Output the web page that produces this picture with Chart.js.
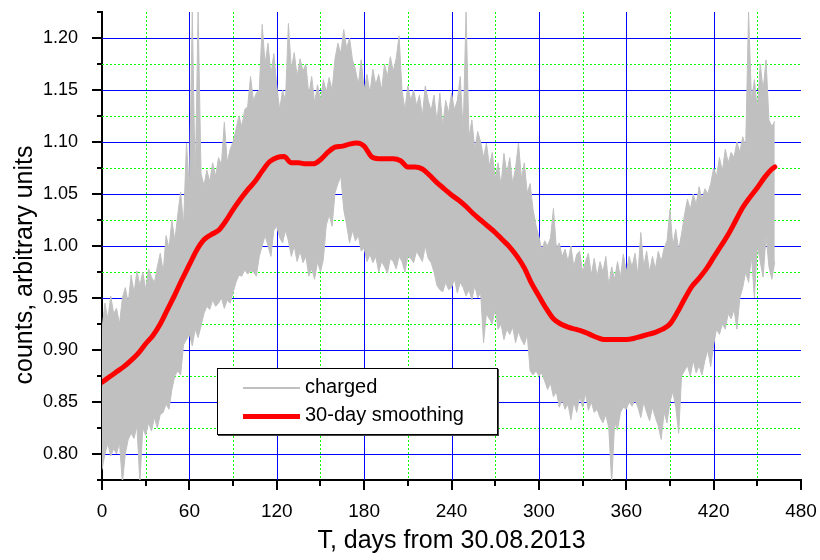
<!DOCTYPE html>
<html>
<head>
<meta charset="utf-8">
<script src="https://cdn.jsdelivr.net/npm/chart.js@4.4.1/dist/chart.umd.min.js"></script>
<style>
  html, body { margin: 0; padding: 0; background: #fff; }
  #wrap { position: relative; width: 820px; height: 560px; }
  #legend {
    position: absolute; left: 217px; top: 368px; width: 279px; height: 65px;
    border: 1px solid #000; background: #fff; box-shadow: 1px 1px 0 #444;
    font-family: "Liberation Sans", Arial, sans-serif; font-size: 20px; line-height: 24px; color: #000;
  }
  #legend .sample { position: absolute; left: 25px; width: 57px; }
  #legend .lbl { position: absolute; left: 87px; white-space: nowrap; }
</style>
</head>
<body>
<div id="wrap">
  <canvas id="c" width="820" height="560"></canvas>
  <div id="legend">
    <div class="sample" style="top:18px;height:2px;background:#c0c0c0;"></div>
    <span class="lbl" style="top:5px;">charged</span>
    <div class="sample" style="top:45px;height:5px;background:#ff0000;"></div>
    <span class="lbl" style="top:33px;">30-day smoothing</span>
  </div>
</div>
<script>
// ---- axis ticks ----
const xTicks = [0, 60, 120, 180, 240, 300, 360, 420, 480];
const xMinor = [30, 90, 150, 210, 270, 330, 390, 450];
const yTicks = [0.80, 0.85, 0.90, 0.95, 1.00, 1.05, 1.10, 1.15, 1.20];
const yMinor = [0.775, 0.825, 0.875, 0.925, 0.975, 1.025, 1.075, 1.125, 1.175, 1.225];

// ---- 30-day smoothing (red) ----
const smoothDays = [0,5,10,15,20,25,30,35,40,45,50,55,60,65,70,75,80,85,90,95,
  100,105,110,115,120,125,130,135,140,145,150,155,160,165,170,175,180,185,190,195,
  200,205,210,215,220,225,230,235,240,245,250,255,260,265,270,275,280,285,290,295,
  300,305,310,315,320,325,330,335,340,345,350,355,360,365,370,375,380,385,390,395,
  400,405,410,415,420,425,430,435,440,445,450,455,460,462];
const smoothValues = [0.869,0.874,0.879,0.884,0.890,0.897,0.906,0.914,0.925,0.939,
  0.953,0.968,0.982,0.996,1.006,1.011,1.015,1.024,1.035,1.045,
  1.054,1.062,1.072,1.081,1.085,1.086,1.080,1.080,1.079,1.079,
  1.083,1.090,1.095,1.096,1.098,1.099,1.096,1.086,1.084,1.084,
  1.084,1.082,1.076,1.076,1.074,1.068,1.061,1.055,1.049,1.044,
  1.038,1.031,1.025,1.019,1.013,1.006,0.999,0.990,0.979,0.964,
  0.952,0.940,0.930,0.925,0.922,0.920,0.918,0.915,0.912,0.910,
  0.910,0.910,0.910,0.911,0.913,0.915,0.917,0.920,0.925,0.936,
  0.949,0.961,0.969,0.978,0.989,1.000,1.011,1.024,1.037,1.047,
  1.056,1.066,1.074,1.076];

// ---- charged (grey band), upper / lower envelope every 2 days ----
const chargedHigh = [
  0.920,0.945,0.930,0.952,0.935,0.940,0.925,0.950,0.960,0.945,
  0.972,0.955,0.976,0.962,0.975,0.958,0.978,0.970,0.965,0.980,
  0.993,0.975,1.010,0.998,1.025,1.005,1.030,1.052,1.020,1.099,
  1.055,1.225,1.060,1.225,1.070,1.058,1.073,1.062,1.080,1.067,
  1.085,1.078,1.119,1.080,1.093,1.100,1.112,1.125,1.115,1.131,
  1.134,1.163,1.140,1.147,1.150,1.213,1.175,1.195,1.165,1.185,
  1.154,1.131,1.150,1.140,1.214,1.170,1.186,1.163,1.180,1.168,
  1.175,1.145,1.163,1.138,1.155,1.140,1.160,1.148,1.162,1.150,
  1.180,1.195,1.185,1.208,1.190,1.200,1.179,1.170,1.155,1.179,
  1.150,1.165,1.147,1.170,1.155,1.165,1.150,1.175,1.163,1.182,
  1.168,1.180,1.202,1.150,1.131,1.154,1.140,1.150,1.135,1.145,
  1.125,1.154,1.140,1.130,1.145,1.120,1.147,1.115,1.140,1.128,
  1.147,1.131,1.140,1.163,1.110,1.225,1.105,1.121,1.093,1.110,
  1.100,1.085,1.099,1.077,1.090,1.065,1.080,1.058,1.089,1.070,
  1.085,1.060,1.075,1.099,1.065,1.080,1.051,1.060,1.035,1.020,
  1.009,0.996,1.005,1.000,1.008,1.036,0.998,1.003,0.990,0.997,
  0.985,1.000,0.980,0.992,0.995,0.975,0.985,0.993,0.972,0.988,
  0.971,0.985,0.975,0.990,0.962,0.980,0.968,0.985,0.970,0.992,
  0.975,0.990,0.980,0.993,0.972,1.013,0.980,0.995,0.975,0.990,
  0.978,0.995,0.985,0.998,1.005,1.035,1.000,1.016,0.996,1.012,
  1.030,1.045,1.035,1.050,1.040,1.057,1.045,1.055,1.050,1.060,
  1.075,1.067,1.085,1.072,1.093,1.080,1.090,1.085,1.100,1.090,
  1.105,1.095,1.225,1.140,1.160,1.131,1.175,1.150,1.179,1.121,
  1.115,1.120];
const chargedLow = [
  0.785,0.800,0.810,0.798,0.805,0.800,0.811,0.772,0.800,0.814,
  0.820,0.815,0.827,0.772,0.825,0.818,0.830,0.822,0.835,0.825,
  0.838,0.840,0.848,0.843,0.862,0.875,0.880,0.876,0.905,0.910,
  0.915,0.904,0.920,0.912,0.923,0.935,0.942,0.939,0.948,0.942,
  0.945,0.950,0.940,0.948,0.945,0.955,0.965,0.972,0.971,0.977,
  0.973,0.976,0.975,0.971,0.990,1.000,1.010,1.000,0.990,1.015,
  1.019,1.008,1.003,1.015,1.005,0.990,1.000,0.985,0.995,0.984,
  0.990,0.971,0.978,0.968,0.985,0.975,0.987,1.020,1.030,1.019,
  1.051,1.060,1.067,1.035,1.020,1.003,1.015,1.005,1.010,0.995,
  0.998,0.985,0.992,0.984,0.990,0.975,0.985,0.980,0.974,0.988,
  0.985,0.978,0.990,0.985,0.975,0.990,0.988,0.984,0.995,0.990,
  0.985,1.000,0.988,0.984,0.975,0.962,0.958,0.956,0.965,0.958,
  0.960,0.968,0.955,0.965,0.960,0.952,0.958,0.948,0.962,0.950,
  0.955,0.907,0.935,0.930,0.925,0.940,0.920,0.925,0.910,0.920,
  0.915,0.922,0.907,0.918,0.910,0.905,0.915,0.880,0.876,0.880,
  0.875,0.878,0.870,0.862,0.868,0.855,0.860,0.845,0.852,0.843,
  0.848,0.833,0.850,0.840,0.855,0.845,0.858,0.842,0.850,0.840,
  0.843,0.835,0.830,0.838,0.825,0.772,0.830,0.823,0.840,0.845,
  0.843,0.850,0.846,0.852,0.845,0.835,0.850,0.840,0.832,0.845,
  0.835,0.827,0.814,0.840,0.830,0.850,0.860,0.845,0.820,0.875,
  0.880,0.885,0.875,0.890,0.878,0.885,0.876,0.890,0.900,0.884,
  0.905,0.920,0.915,0.925,0.920,0.935,0.930,0.939,0.920,0.950,
  0.960,0.975,0.965,0.990,0.950,1.000,0.985,0.970,1.010,0.980,
  0.968,0.985];
const chargedDays = chargedHigh.map((_, i) => i * 2);

const FONT = '"Liberation Sans", Arial, Helvetica, sans-serif';

const decorPlugin = {
  id: 'decor',
  beforeDatasetsDraw(chart) {
    const { ctx, chartArea: a, scales: { x, y } } = chart;
    ctx.save();
    ctx.lineWidth = 1;
    const seg = (x1, y1, x2, y2) => { ctx.beginPath(); ctx.moveTo(x1, y1); ctx.lineTo(x2, y2); ctx.stroke(); };
    ctx.strokeStyle = '#00ff00';
    ctx.setLineDash([2, 2]);
    xMinor.forEach(v => { if (v <= x.min || v >= x.max) return; const p = Math.round(x.getPixelForValue(v)) + 0.5; seg(p, a.top, p, a.bottom); });
    yMinor.forEach(v => { if (v <= y.min + 1e-9 || v >= y.max - 1e-9) return; const p = Math.round(y.getPixelForValue(v)) + 0.5; seg(a.left, p, a.right, p); });
    ctx.setLineDash([]);
    ctx.strokeStyle = '#0000ff';
    xTicks.forEach(v => { if (v <= x.min || v >= x.max) return; const p = Math.round(x.getPixelForValue(v)) + 0.5; seg(p, a.top, p, a.bottom); });
    yTicks.forEach(v => { if (v <= y.min + 1e-9 || v >= y.max - 1e-9) return; const p = Math.round(y.getPixelForValue(v)) + 0.5; seg(a.left, p, a.right, p); });
    ctx.restore();
  },
  afterDraw(chart) {
    const { ctx, chartArea: a, scales: { x, y } } = chart;
    ctx.save();
    ctx.strokeStyle = '#000';
    ctx.lineWidth = 2;
    const seg = (x1, y1, x2, y2) => { ctx.beginPath(); ctx.moveTo(x1, y1); ctx.lineTo(x2, y2); ctx.stroke(); };
    xTicks.forEach(v => { const p = Math.round(x.getPixelForValue(v)); seg(p, a.bottom, p, a.bottom + 10); });
    xMinor.forEach(v => { const p = Math.round(x.getPixelForValue(v)); seg(p, a.bottom, p, a.bottom + 6); });
    yTicks.forEach(v => { const p = Math.round(y.getPixelForValue(v)); seg(a.left, p, a.left - 10, p); });
    yMinor.forEach(v => { const p = Math.round(y.getPixelForValue(v)); seg(a.left, p, a.left - 5, p); });
    // axis titles
    ctx.fillStyle = '#000';
    ctx.font = '25px ' + FONT;
    ctx.textAlign = 'center';
    ctx.textBaseline = 'alphabetic';
    ctx.fillText('T, days from 30.08.2013', (a.left + a.right) / 2, 548);
    ctx.translate(32, 265);
    ctx.rotate(-Math.PI / 2);
    ctx.fillText('counts, arbitrary units', 0, 0);
    ctx.restore();
  }
};

new Chart(document.getElementById('c'), {
  type: 'line',
  data: {
    datasets: [
      {
        label: 'charged-low',
        data: chargedDays.map((d, i) => ({ x: d, y: chargedLow[i] })),
        borderColor: '#c0c0c0', borderWidth: 1, pointRadius: 0, fill: false, tension: 0, order: 2
      },
      {
        label: 'charged',
        data: chargedDays.map((d, i) => ({ x: d, y: chargedHigh[i] })),
        borderColor: '#c0c0c0', backgroundColor: '#c0c0c0', borderWidth: 1, pointRadius: 0,
        fill: '-1', tension: 0, order: 1
      },
      {
        label: '30-day smoothing',
        data: smoothDays.map((d, i) => ({ x: d, y: smoothValues[i] })),
        borderColor: '#ff0000', borderWidth: 5, pointRadius: 0, fill: false,
        cubicInterpolationMode: 'monotone', borderCapStyle: 'round', borderJoinStyle: 'round', order: 0
      }
    ]
  },
  options: {
    responsive: false,
    animation: false,
    devicePixelRatio: 1,
    layout: { padding: { left: 0, top: 12, right: 19, bottom: 0 } },
    plugins: { legend: { display: false }, tooltip: { enabled: false } },
    scales: {
      x: {
        type: 'linear', min: 0, max: 480,
        afterBuildTicks: s => { s.ticks = xTicks.map(v => ({ value: v })); },
        afterFit: s => { s.height = 80; s.paddingLeft = 0; s.paddingRight = 0; },
        grid: { display: false },
        border: { display: true, color: '#000', width: 2 },
        ticks: { font: { family: FONT, size: 19 }, color: '#000', padding: 12, maxRotation: 0, autoSkip: false,
                 callback: v => String(v) }
      },
      y: {
        type: 'linear', min: 0.775, max: 1.225,
        afterBuildTicks: s => { s.ticks = yTicks.map(v => ({ value: v })); },
        afterFit: s => { s.width = 102; s.paddingTop = 0; s.paddingBottom = 0; },
        grid: { display: false },
        border: { display: true, color: '#000', width: 2 },
        ticks: { font: { family: FONT, size: 18 }, color: '#000', padding: 16, autoSkip: false,
                 callback: v => Number(v).toFixed(2) }
      }
    }
  },
  plugins: [decorPlugin]
});
</script>
</body>
</html>
